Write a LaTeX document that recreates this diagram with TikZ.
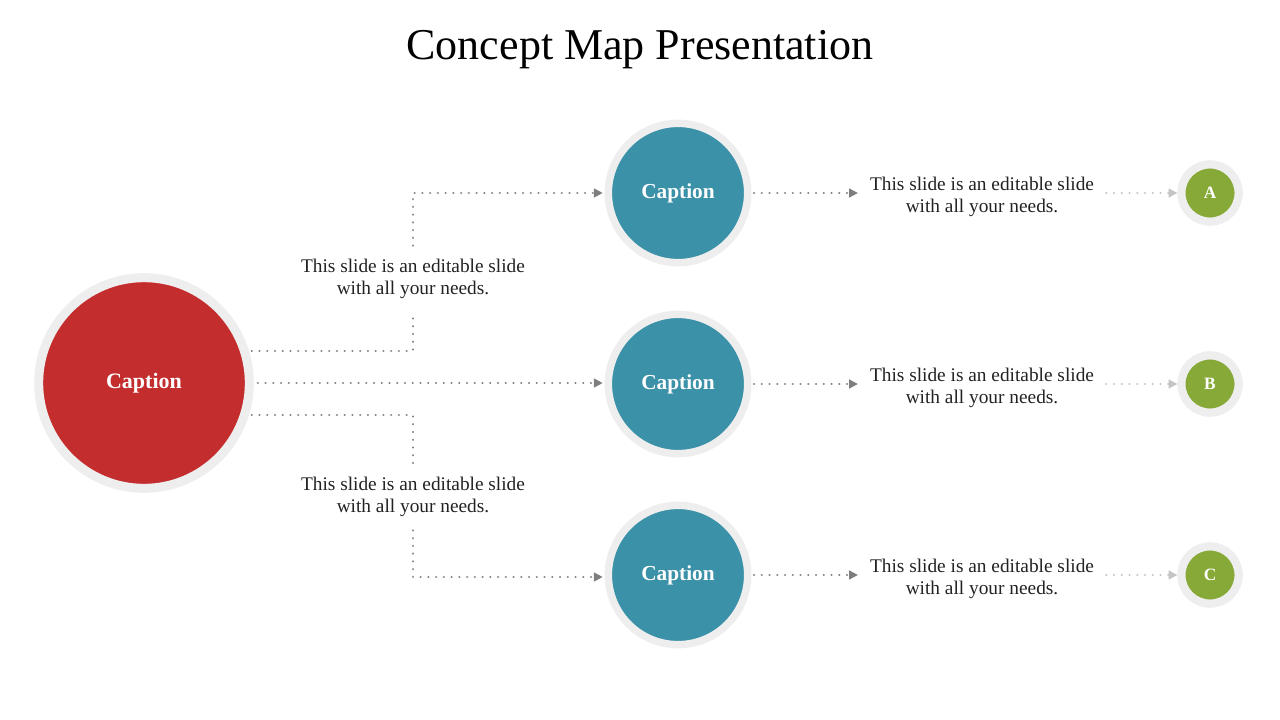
\documentclass[tikz,border=0pt]{standalone}
\usepackage{fontspec}
\setmainfont{Liberation Serif}
\usetikzlibrary{arrows.meta}
\definecolor{ringgray}{HTML}{EEEEEE}
\definecolor{capred}{HTML}{C32D2E}
\definecolor{capteal}{HTML}{3A91A8}
\definecolor{capgreen}{HTML}{86A937}
\definecolor{dotgray}{HTML}{7E7E7E}
\definecolor{dotlight}{HTML}{C4C4C4}
\definecolor{txtcol}{HTML}{222222}
\begin{document}
\begin{tikzpicture}[x=0.75pt,y=-0.75pt,
  redc/.style={circle,fill=capred,draw=ringgray,line width=6.75pt,minimum size=158pt,inner sep=0pt,
    text=white,font=\fontsize{16.5}{18}\selectfont\bfseries},
  tealc/.style={circle,fill=capteal,draw=ringgray,line width=5.6pt,minimum size=104.5pt,inner sep=0pt,
    text=white,font=\fontsize{16}{18}\selectfont\bfseries},
  greenc/.style={circle,fill=capgreen,draw=ringgray,line width=6.2pt,minimum size=43pt,inner sep=0pt,
    text=white,font=\fontsize{13}{15}\selectfont\bfseries},
  txt/.style={align=center,text=txtcol,font=\fontsize{14.5}{16.5}\selectfont,inner xsep=9pt,inner ysep=10pt},
  dotline/.style={draw=dotgray,line width=1.8pt,line cap=round,dash pattern=on 0.01pt off 5.8pt},
  dotlite/.style={draw=dotlight,line width=1.8pt,line cap=round,dash pattern=on 0.01pt off 5.8pt},
  arr/.style={-{Triangle[length=6.5pt,width=7pt,line width=0pt]}},
]
\useasboundingbox (0,0) rectangle (1280,720);

% title
\node[font=\fontsize{33}{38}\selectfont,text=black] (title) at (640,50) {Concept Map Presentation};

% main circles
\node[redc] (red) at (144,383) {Caption};
\node[tealc] (t1) at (678,193) {Caption};
\node[tealc] (t2) at (678,384) {Caption};
\node[tealc] (t3) at (678,575) {Caption};
\node[greenc] (g1) at (1210,193) {A};
\node[greenc] (g2) at (1210,384) {B};
\node[greenc] (g3) at (1210,575) {C};

% left texts
\node[txt] (l1) at (413,279) {This slide is an editable slide\\with all your needs.};
\node[txt] (l2) at (413,497) {This slide is an editable slide\\with all your needs.};

% right texts
\node[txt] (r1) at (982,197) {This slide is an editable slide\\with all your needs.};
\node[txt] (r2) at (982,388) {This slide is an editable slide\\with all your needs.};
\node[txt] (r3) at (982,579) {This slide is an editable slide\\with all your needs.};

% connectors from red
\draw[dotline,shorten <=2pt] (red.17) -- (red.17 -| l1) -- (l1.south);
\draw[dotline,arr,shorten >=1.5pt] (l1.north) -- (l1.north |- t1) -- (t1.west);
\draw[dotline,arr,shorten <=3pt,shorten >=1.5pt] (red.east) -- (red.east -| t2.west);
\draw[dotline,shorten <=2pt] (red.-17) -- (red.-17 -| l2) -- (l2.north);
\draw[dotline,arr,shorten >=1.5pt] (l2.south) -- ([yshift=-1.5pt]l2.south |- t3) -- ([yshift=-1.5pt]t3.west);

% teal to texts
\draw[dotline,arr,shorten <=2pt] (t1.east) -- (t1.east -| r1.west);
\draw[dotline,arr,shorten <=2pt] (t2.east) -- (t2.east -| r2.west);
\draw[dotline,arr,shorten <=2pt] (t3.east) -- (t3.east -| r3.west);

% texts to green
\draw[dotlite,arr] (g1.west -| r1.east) -- (g1.west);
\draw[dotlite,arr] (g2.west -| r2.east) -- (g2.west);
\draw[dotlite,arr] (g3.west -| r3.east) -- (g3.west);
\end{tikzpicture}
\end{document}
